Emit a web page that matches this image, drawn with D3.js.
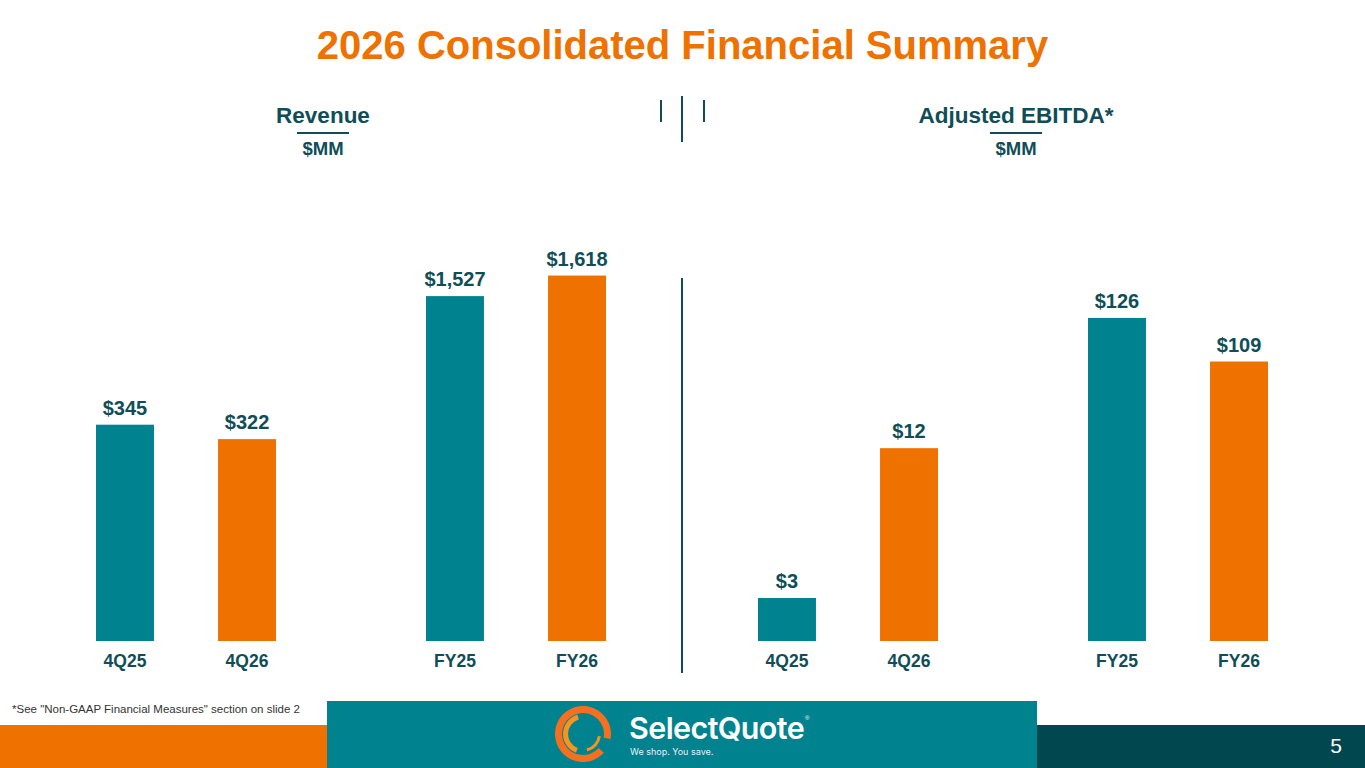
<!DOCTYPE html>
<html>
<head>
<meta charset="utf-8">
<script src="https://cdn.jsdelivr.net/npm/d3@7"></script>
<style>
  html, body { margin: 0; padding: 0; background: #fff; }
  svg { display: block; font-family: "Liberation Sans", Arial, sans-serif; }
</style>
</head>
<body>
<div id="chart"></div>
<script>
const groups = ["Q", "FY"];
const periods = ["prior", "current"];
const quarterLabels = ["4Q25", "4Q26"];
const yearLabels = ["FY25", "FY26"];
const revenueQuarter = [345, 322];
const revenueYear = [1527, 1618];
const ebitdaQuarter = [2.7, 12.1];
const ebitdaYear = [126, 109];
// each group is drawn on its own scale, as on the slide
const domainMax = { revQ: 638, revFY: 1771, ebQ: 25.1, ebFY: 156 };

const W = 1365, H = 768;
const teal = "#00828f", orange = "#ef7100", dark = "#0f4d57";
const baseline = 641, plotH = 400;

const svg = d3.select("#chart").append("svg")
  .attr("width", W)
  .attr("height", H);

// Title
svg.append("text")
  .attr("x", W / 2)
  .attr("y", 59)
  .attr("text-anchor", "middle")
  .attr("fill", orange)
  .attr("font-size", 40)
  .attr("font-weight", "bold")
  .text("2026 Consolidated Financial Summary");

const panels = [
  { title: "Revenue", cx: 323, range: [96, 606],
    data: [
      { group: "Q", labels: quarterLabels, values: revenueQuarter, max: domainMax.revQ },
      { group: "FY", labels: yearLabels, values: revenueYear, max: domainMax.revFY }
    ] },
  { title: "Adjusted EBITDA*", cx: 1016, range: [758, 1268],
    data: [
      { group: "Q", labels: quarterLabels, values: ebitdaQuarter, max: domainMax.ebQ },
      { group: "FY", labels: yearLabels, values: ebitdaYear, max: domainMax.ebFY }
    ] }
];

const fmt = d3.format("$,.0f");

panels.forEach(p => {
  // Header
  svg.append("text")
    .attr("x", p.cx).attr("y", 123)
    .attr("text-anchor", "middle")
    .attr("fill", dark)
    .attr("font-size", 22.5).attr("font-weight", "bold")
    .text(p.title);
  svg.append("line")
    .attr("x1", p.cx - 26).attr("x2", p.cx + 26)
    .attr("y1", 133).attr("y2", 133)
    .attr("stroke", dark).attr("stroke-width", 2);
  svg.append("text")
    .attr("x", p.cx).attr("y", 155)
    .attr("text-anchor", "middle")
    .attr("fill", dark)
    .attr("font-size", 18.5).attr("font-weight", "bold")
    .text("$MM");

  const x0 = d3.scaleBand().domain(groups).range(p.range).paddingInner(0.4545);
  const x1 = d3.scaleBand().domain(periods).range([0, x0.bandwidth()]).paddingInner(0.525);

  p.data.forEach(g => {
    const y = d3.scaleLinear().domain([0, g.max]).range([baseline, baseline - plotH]);
    const rows = g.values.map((v, i) => ({ period: periods[i], label: g.labels[i], value: v }));
    const gg = svg.append("g").attr("transform", `translate(${x0(g.group)},0)`);

    gg.selectAll("rect")
      .data(rows)
      .join("rect")
      .attr("x", d => x1(d.period))
      .attr("y", d => y(d.value))
      .attr("width", x1.bandwidth())
      .attr("height", d => baseline - y(d.value))
      .attr("fill", (d, i) => i === 0 ? teal : orange);

    gg.selectAll("text.val")
      .data(rows)
      .join("text")
      .attr("class", "val")
      .attr("x", d => x1(d.period) + x1.bandwidth() / 2)
      .attr("y", d => y(d.value) - 10)
      .attr("text-anchor", "middle")
      .attr("fill", dark)
      .attr("font-size", 20).attr("font-weight", "bold")
      .text(d => fmt(d.value));

    gg.selectAll("text.cat")
      .data(rows)
      .join("text")
      .attr("class", "cat")
      .attr("x", d => x1(d.period) + x1.bandwidth() / 2)
      .attr("y", 667)
      .attr("text-anchor", "middle")
      .attr("fill", dark)
      .attr("font-size", 17.5).attr("font-weight", "bold")
      .text(d => d.label);
  });
});

// Dividers
const div = svg.append("g").attr("stroke", dark).attr("stroke-width", 2);
div.append("line").attr("x1", 682).attr("x2", 682).attr("y1", 278).attr("y2", 673);
div.append("line").attr("x1", 682).attr("x2", 682).attr("y1", 96).attr("y2", 142);
div.append("line").attr("x1", 661).attr("x2", 661).attr("y1", 100).attr("y2", 122);
div.append("line").attr("x1", 704).attr("x2", 704).attr("y1", 100).attr("y2", 122);

// Footnote
svg.append("text")
  .attr("x", 12).attr("y", 713)
  .attr("fill", "#333")
  .attr("font-size", 11.5)
  .text("*See \"Non-GAAP Financial Measures\" section on slide 2");

// Footer bands
svg.append("rect").attr("x", 0).attr("y", 725).attr("width", 327).attr("height", 43).attr("fill", orange);
svg.append("rect").attr("x", 327).attr("y", 701).attr("width", 710).attr("height", 67).attr("fill", "#00838f");
svg.append("rect").attr("x", 1037).attr("y", 725).attr("width", 328).attr("height", 43).attr("fill", "#00474f");

svg.append("text")
  .attr("x", 1336).attr("y", 753)
  .attr("text-anchor", "middle")
  .attr("fill", "#fff")
  .attr("font-size", 21)
  .text("5");

// Logo
const logo = svg.append("g").attr("transform", "translate(583,734)");
logo.append("path")
  .attr("d", d3.arc()({ innerRadius: 21, outerRadius: 28, startAngle: 2.3, endAngle: 2 * Math.PI + 1.75 }))
  .attr("fill", "#f37021");
logo.append("path")
  .attr("d", d3.arc()({ innerRadius: 15, outerRadius: 20, startAngle: 3.5, endAngle: 6.0 }))
  .attr("fill", "#f7941d");
logo.append("path")
  .attr("d", d3.arc()({ innerRadius: 15, outerRadius: 18, startAngle: 1.7, endAngle: 2.9 }))
  .attr("fill", "#f7941d");

svg.append("text")
  .attr("x", 629).attr("y", 739)
  .attr("fill", "#fff")
  .attr("font-family", "Inter, 'Open Sans', sans-serif")
  .attr("font-size", 30.5).attr("font-weight", 600)
  .attr("letter-spacing", -0.6)
  .text("SelectQuote");
svg.append("text")
  .attr("x", 805).attr("y", 720)
  .attr("fill", "#fff")
  .attr("font-size", 6)
  .text("®");
svg.append("text")
  .attr("x", 630).attr("y", 755)
  .attr("fill", "#e6f2f3")
  .attr("font-family", "Inter, 'Open Sans', sans-serif")
  .attr("font-size", 9)
  .text("We shop. You save.");
</script>
</body>
</html>
